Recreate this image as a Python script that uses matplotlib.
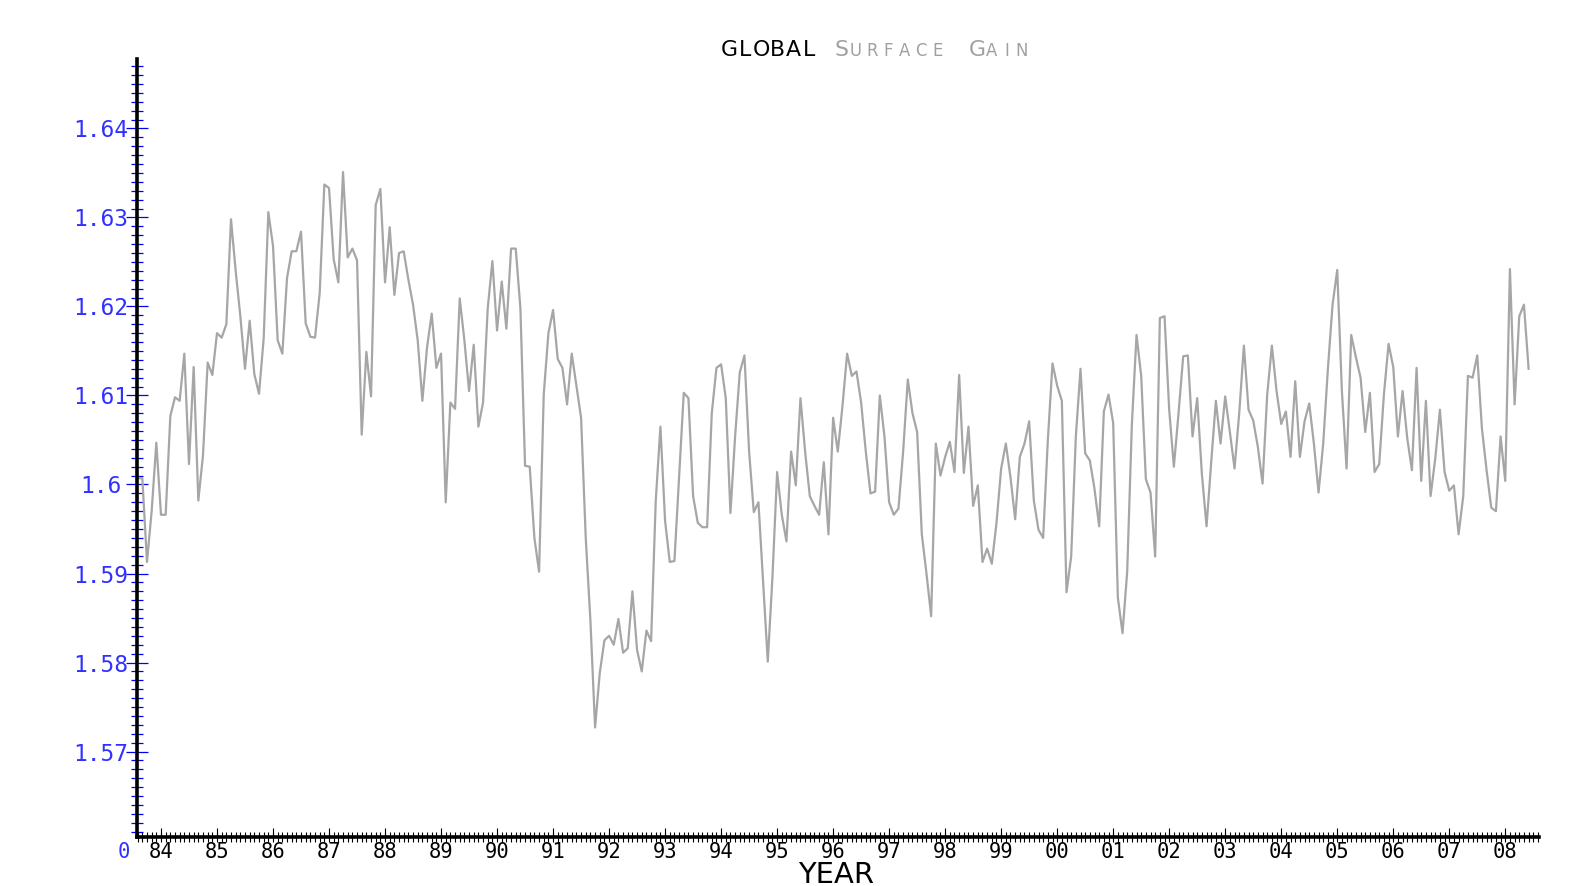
import numpy as np
import matplotlib
matplotlib.use('Agg')
import matplotlib.pyplot as plt
from matplotlib.ticker import MultipleLocator

plt.rcParams['font.family'] = ['DejaVu Sans Mono']

# monthly global surface gain, Aug 1983 .. Jun 2008
start_year, start_month = 1983, 8
gain = [
    1.6007, 1.6007, 1.5913, 1.5970, 1.6047,
    1.5966, 1.5966, 1.6077, 1.6098, 1.6094, 1.6147, 1.6023, 1.6132, 1.5982, 1.6033, 1.6137, 1.6123,
    1.6170, 1.6165, 1.6180, 1.6298, 1.6240, 1.6189, 1.6130, 1.6184, 1.6124, 1.6102, 1.6164, 1.6306,
    1.6268, 1.6162, 1.6147, 1.6232, 1.6262, 1.6262, 1.6284, 1.6181, 1.6166, 1.6165, 1.6215, 1.6337,
    1.6333, 1.6253, 1.6227, 1.6351, 1.6255, 1.6265, 1.6252, 1.6056, 1.6149, 1.6099, 1.6314, 1.6332,
    1.6227, 1.6289, 1.6213, 1.6260, 1.6262, 1.6230, 1.6202, 1.6162, 1.6094, 1.6154, 1.6192, 1.6131,
    1.6147, 1.5980, 1.6092, 1.6085, 1.6209, 1.6162, 1.6105, 1.6157, 1.6065, 1.6092, 1.6198, 1.6251,
    1.6173, 1.6228, 1.6175, 1.6265, 1.6265, 1.6198, 1.6021, 1.6020, 1.5940, 1.5902, 1.6101, 1.6170,
    1.6196, 1.6141, 1.6131, 1.6090, 1.6147, 1.6111, 1.6075, 1.5940, 1.5847, 1.5727, 1.5788, 1.5825,
    1.5830, 1.5820, 1.5849, 1.5811, 1.5816, 1.5880, 1.5814, 1.5790, 1.5836, 1.5824, 1.5982, 1.6065,
    1.5959, 1.5913, 1.5914, 1.6008, 1.6103, 1.6097, 1.5987, 1.5957, 1.5952, 1.5952, 1.6080, 1.6131,
    1.6135, 1.6097, 1.5968, 1.6054, 1.6126, 1.6145, 1.6037, 1.5969, 1.5980, 1.5890, 1.5801, 1.5896,
    1.6014, 1.5966, 1.5936, 1.6037, 1.5999, 1.6097, 1.6037, 1.5987, 1.5976, 1.5966, 1.6025, 1.5944,
    1.6075, 1.6037, 1.6088, 1.6147, 1.6122, 1.6127, 1.6092, 1.6037, 1.5990, 1.5992, 1.6100, 1.6054,
    1.5980, 1.5966, 1.5973, 1.6037, 1.6118, 1.6080, 1.6059, 1.5944, 1.5900, 1.5852, 1.6046, 1.6010,
    1.6031, 1.6048, 1.6014, 1.6123, 1.6013, 1.6065, 1.5976, 1.5999, 1.5913, 1.5928, 1.5911, 1.5957,
    1.6018, 1.6046, 1.6008, 1.5961, 1.6031, 1.6046, 1.6071, 1.5982, 1.5949, 1.5940, 1.6050, 1.6136,
    1.6111, 1.6094, 1.5879, 1.5919, 1.6054, 1.6130, 1.6035, 1.6027, 1.5995, 1.5953, 1.6082, 1.6101,
    1.6069, 1.5873, 1.5833, 1.5902, 1.6067, 1.6168, 1.6122, 1.6006, 1.5991, 1.5919, 1.6187, 1.6189,
    1.6084, 1.6020, 1.6080, 1.6144, 1.6145, 1.6054, 1.6097, 1.6012, 1.5953, 1.6025, 1.6094, 1.6046,
    1.6099, 1.6059, 1.6018, 1.6080, 1.6156, 1.6084, 1.6072, 1.6042, 1.6001, 1.6101, 1.6156, 1.6105,
    1.6068, 1.6082, 1.6031, 1.6116, 1.6031, 1.6071, 1.6091, 1.6046, 1.5991, 1.6046, 1.6130, 1.6202,
    1.6241, 1.6105, 1.6018, 1.6168, 1.6143, 1.6120, 1.6059, 1.6103, 1.6014, 1.6023, 1.6101, 1.6158,
    1.6132, 1.6054, 1.6105, 1.6052, 1.6016, 1.6131, 1.6004, 1.6094, 1.5987, 1.6029, 1.6084, 1.6014,
    1.5993, 1.5999, 1.5944, 1.5987, 1.6122, 1.6120, 1.6145, 1.6063, 1.6016, 1.5974, 1.5970, 1.6054,
    1.6004, 1.6242, 1.6090, 1.6189, 1.6202, 1.6130,
]

year_ticks = list(range(1984, 2009))
year_labels = ['%02d' % (y % 100) for y in year_ticks]
ytick_vals = [1.57, 1.58, 1.59, 1.60, 1.61, 1.62, 1.63, 1.64]
ytick_labels = ['1.57', '1.58', '1.59', '1.6', '1.61', '1.62', '1.63', '1.64']

x = start_year + (start_month - 1) / 12 + np.arange(len(gain)) / 12

W, H = 1596, 886
fig = plt.figure(figsize=(W / 100, H / 100), dpi=100)
ax = fig.add_axes([137.3 / W, 1 - 837 / H, (1538.7 - 137.3) / W, (837 - 59) / H])

ax.plot(x, gain, color='#a6a6a6', lw=1.6)
ax.set_xlim(1983.577, 2008.597)
ax.set_ylim(1.5604, 1.6478)

for s in ['top', 'right']:
    ax.spines[s].set_visible(False)
for s in ['left', 'bottom']:
    ax.spines[s].set_linewidth(2.6)

ax.set_xticks(year_ticks, year_labels)
ax.xaxis.set_minor_locator(MultipleLocator(1 / 12))
ax.xaxis.remove_overlapping_locs = False
ax.tick_params(axis='x', which='major', direction='in', length=6.5, width=0.8,
               color='black', pad=3.8, labelsize=14.8)
ax.tick_params(axis='x', which='minor', direction='inout', length=7.2, width=0.8,
               color='black')

ax.set_yticks(ytick_vals, ytick_labels)
ax.yaxis.set_minor_locator(MultipleLocator(0.001))
ax.tick_params(axis='y', which='major', direction='inout', length=15.5, width=0.9,
               color='#0000ff', labelcolor='#3030ff', pad=18.6, labelsize=16.5)
ax.tick_params(axis='y', which='minor', direction='inout', length=8.5, width=0.9,
               color='#0000ff')
for lab in ax.get_yticklabels():
    lab.set_horizontalalignment('center')

# origin label
fig.text(124 / W, 1 - 852 / H, '0', color='#3030ff', fontsize=14.8,
         ha='center', va='center')


def spaced(x0, base, text, adv, size, color):
    # lay out characters in fixed-width cells (pixel coords from top-left)
    for k, ch in enumerate(text):
        fig.text((x0 + adv * (k + 0.5)) / W, 1 - base / H, ch, ha='center',
                 va='baseline', fontsize=size, color=color, family='DejaVu Sans')


spaced(721, 56, 'GLOBAL', 16, 15.8, 'black')
spaced(835, 56, 'S', 13, 15.8, '#a0a0a0')
spaced(848, 56, 'URFACE', 16.2, 11.9, '#a0a0a0')
spaced(971, 56, 'G', 13, 15.8, '#a0a0a0')
spaced(984, 56, 'AIN', 15, 11.9, '#a0a0a0')

fig.text(836 / W, 1 - 883 / H, 'YEAR', ha='center', va='baseline',
         fontsize=20.9, family='DejaVu Sans', color='black')

fig.savefig('out.png', dpi=100, facecolor='white')
